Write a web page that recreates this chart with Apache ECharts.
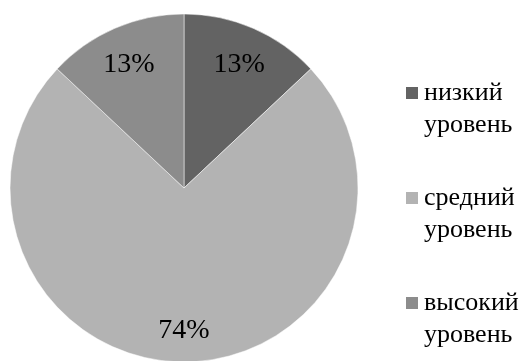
<!DOCTYPE html>
<html><head><meta charset="utf-8">
<script src="https://cdn.jsdelivr.net/npm/echarts@6/dist/echarts.min.js"></script>
<style>html,body{margin:0;padding:0;background:#fff}#c{width:528px;height:361px}</style>
</head><body><div id="c"></div>
<script>
var categories = ['низкий\nуровень', 'средний\nуровень', 'высокий\nуровень'];
var values = [13, 74, 13];
var colors = ['#636363', '#b3b3b3', '#8c8c8c'];

var CENTER = [184, 188];
var RADIUS = 174;
var LABEL_RATIO = 0.77;
var LABEL_SHIFT_Y = 4;
var SERIF = 'Liberation Serif';

var chart = echarts.init(document.getElementById('c'), null, {renderer: 'canvas'});
chart.setOption({
  animation: false,
  backgroundColor: '#ffffff',
  color: colors,
  textStyle: {fontFamily: SERIF, color: '#000'},
  legend: {
    orient: 'vertical',
    left: 399,
    top: 40,
    itemWidth: 14,
    itemHeight: 14,
    itemGap: 9,
    icon: 'rect',
    selectedMode: false,
    formatter: function (name) {
      return '\n' + name;
    },
    textStyle: {
      fontFamily: SERIF,
      fontSize: 26,
      lineHeight: 32,
      color: '#000'
    },
    data: categories
  },
  series: [{
    type: 'pie',
    center: CENTER,
    radius: RADIUS,
    startAngle: 90,
    clockwise: true,
    avoidLabelOverlap: false,
    itemStyle: {borderColor: '#ffffff', borderWidth: 0.5},
    label: {
      show: true,
      position: 'inside',
      formatter: function (p) { return Math.round(p.percent) + '%'; },
      fontFamily: SERIF,
      fontSize: 28,
      color: '#000'
    },
    labelLine: {show: false},
    emphasis: {disabled: true},
    labelLayout: function (p) {
      var r = p.labelRect;
      var cx = r.x + r.width / 2, cy = r.y + r.height / 2;
      var k = LABEL_RATIO / 0.5 - 1;
      return {dx: (cx - CENTER[0]) * k, dy: (cy - CENTER[1]) * k + LABEL_SHIFT_Y};
    },
    data: categories.map(function (c, i) { return {name: c, value: values[i]}; })
  }]
});
</script></body></html>
